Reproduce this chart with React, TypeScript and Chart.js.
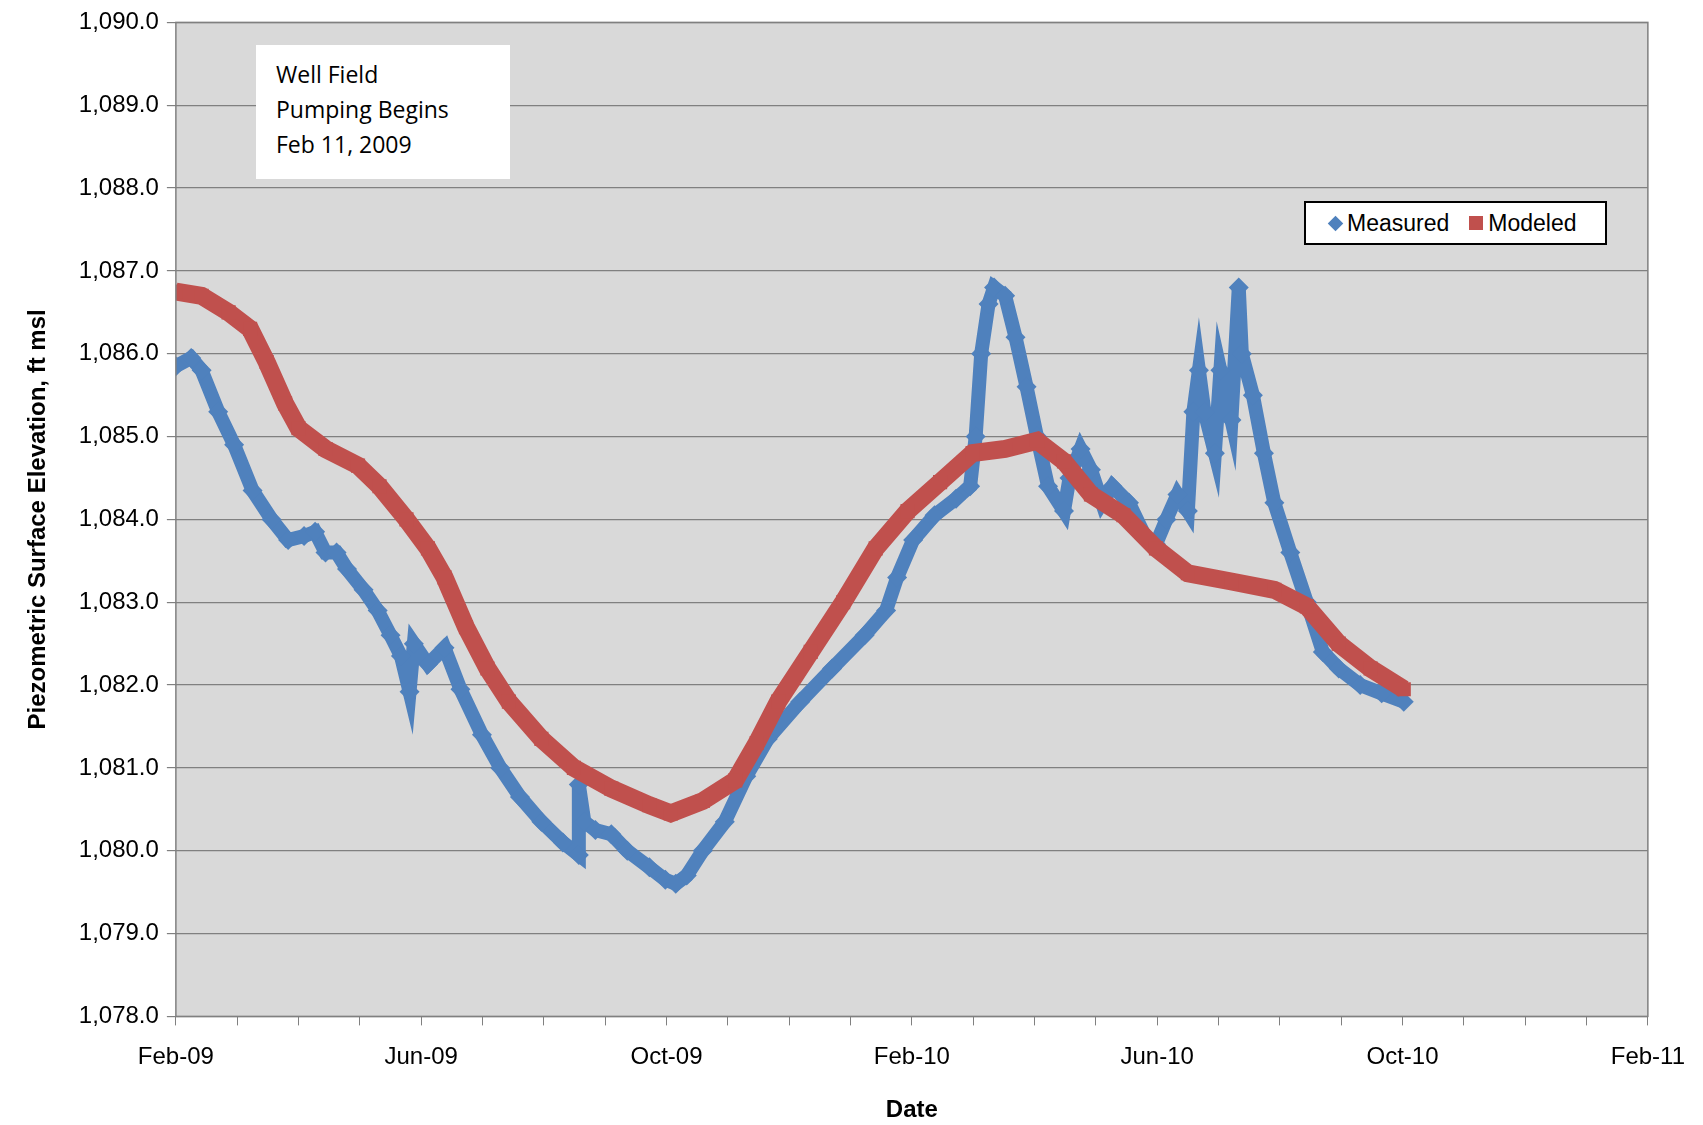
import React, { useEffect, useRef } from "react";
import { Chart, registerables } from "chart.js";
Chart.register(...registerables);

// months since Feb 1 2009
const measuredX = [0,0.25,0.42,0.69,0.95,1.25,1.56,1.83,2.09,2.27,2.44,2.62,2.79,3.06,3.29,3.5,3.67,3.81,3.88,4.11,4.38,4.64,4.99,5.29,5.61,5.96,6.31,6.57,6.57,6.66,6.84,7.1,7.36,7.72,7.98,8.15,8.33,8.59,8.95,9.3,9.65,10.18,10.7,11.23,11.58,11.76,12.02,12.37,12.72,12.95,13.04,13.13,13.25,13.34,13.52,13.69,13.87,14.04,14.22,14.48,14.57,14.75,14.92,15.1,15.27,15.54,15.8,15.98,16.15,16.33,16.5,16.59,16.68,16.77,16.94,17.03,17.21,17.33,17.38,17.56,17.74,17.91,18.17,18.44,18.7,18.96,19.31,19.66,20.02];
const measuredY = [1085.85,1085.95,1085.8,1085.3,1084.9,1084.35,1084.0,1083.75,1083.8,1083.85,1083.6,1083.6,1083.4,1083.15,1082.9,1082.6,1082.35,1081.92,1082.5,1082.25,1082.45,1081.95,1081.4,1081.0,1080.65,1080.35,1080.1,1079.95,1080.8,1080.35,1080.25,1080.2,1080.0,1079.8,1079.65,1079.6,1079.7,1080.0,1080.35,1080.9,1081.35,1081.8,1082.2,1082.6,1082.9,1083.3,1083.75,1084.05,1084.25,1084.4,1085.0,1086.0,1086.6,1086.8,1086.7,1086.2,1085.6,1085.0,1084.4,1084.1,1084.5,1084.85,1084.6,1084.2,1084.4,1084.2,1083.8,1083.7,1084.0,1084.3,1084.1,1085.3,1085.8,1085.3,1084.8,1085.8,1085.2,1086.8,1086.0,1085.5,1084.8,1084.2,1083.6,1083.0,1082.4,1082.2,1082.0,1081.9,1081.8];
const modeledX = [0,0.42,0.86,1.21,1.48,1.78,2.0,2.44,2.97,3.32,3.76,4.11,4.38,4.73,5.08,5.43,5.96,6.49,7.1,7.72,8.07,8.59,9.12,9.47,9.82,10.35,10.88,11.41,11.93,12.46,12.99,13.52,14.04,14.48,14.92,15.45,15.98,16.5,17.21,17.91,18.44,18.96,19.48,20.02];
const modeledY = [1086.75,1086.7,1086.5,1086.3,1085.9,1085.4,1085.1,1084.85,1084.65,1084.4,1084.0,1083.65,1083.3,1082.7,1082.2,1081.8,1081.35,1081.0,1080.75,1080.55,1080.45,1080.6,1080.85,1081.3,1081.8,1082.4,1083.0,1083.65,1084.1,1084.45,1084.8,1084.85,1084.95,1084.7,1084.3,1084.05,1083.65,1083.35,1083.25,1083.15,1082.95,1082.5,1082.2,1081.95];
const xTickLabels: Record<number, string> = { 0: "Feb-09", 4: "Jun-09", 8: "Oct-09", 12: "Feb-10", 16: "Jun-10", 20: "Oct-10", 24: "Feb-11" };

const BLUE = "#4F81BD";
const RED = "#C0504D";

export default function App() {
  const ref = useRef<HTMLCanvasElement>(null);
  useEffect(() => {
    const bg = {
      id: "bg",
      beforeDraw(c: any) {
        const { ctx, chartArea: a } = c;
        ctx.save();
        ctx.fillStyle = "#D9D9D9";
        ctx.fillRect(a.left, a.top, a.right - a.left, a.bottom - a.top);
        ctx.restore();
      },
      afterDraw(c: any) {
        const { ctx, chartArea: a } = c;
        ctx.save();
        ctx.strokeStyle = "#808080";
        ctx.lineWidth = 1.5;
        ctx.strokeRect(a.left, a.top, a.right - a.left, a.bottom - a.top);
        ctx.restore();
      },
    };
    const chart = new Chart(ref.current!, {
      type: "scatter",
      data: {
        datasets: [
          {
            label: "Modeled",
            data: modeledX.map((x, i) => ({ x, y: modeledY[i] })),
            showLine: true,
            borderColor: RED,
            borderWidth: 18,
            backgroundColor: RED,
            pointStyle: "rect",
            pointRadius: 10,
            pointBorderWidth: 0,
          },
          {
            label: "Measured",
            data: measuredX.map((x, i) => ({ x, y: measuredY[i] })),
            showLine: true,
            borderColor: BLUE,
            borderWidth: 14,
            backgroundColor: BLUE,
            pointStyle: "rectRot",
            pointRadius: 10,
            pointBorderWidth: 0,
          },
        ],
      },
      options: {
        animation: false,
        responsive: false,
        layout: { padding: { left: 20, right: 19, top: 21, bottom: 0 } },
        plugins: { legend: { display: false }, tooltip: { enabled: false } },
        scales: {
          x: {
            type: "linear",
            min: 0,
            max: 24,
            afterBuildTicks: (s: any) => {
              s.ticks = Array.from({ length: 25 }, (_, i) => ({ value: i }));
            },
            ticks: {
              autoSkip: false,
              maxRotation: 0,
              color: "#000",
              font: { family: "Arial, Liberation Sans", size: 24 },
              padding: 18,
              callback: (v: any) => xTickLabels[v] ?? "",
            },
            grid: { drawOnChartArea: false, drawTicks: true, tickLength: 9, color: "#808080" },
            border: { display: false },
            title: { display: true, text: "Date", color: "#000", font: { family: "Arial, Liberation Sans", size: 24, weight: "bold" }, padding: { top: 6, bottom: 0 } },
          },
          y: {
            min: 1078,
            max: 1090,
            ticks: {
              stepSize: 1,
              color: "#000",
              font: { family: "Arial, Liberation Sans", size: 24 },
              padding: 8,
              callback: (v: any) => Number(v).toLocaleString("en-US", { minimumFractionDigits: 1, maximumFractionDigits: 1 }),
            },
            grid: { color: "#808080", lineWidth: 1.2, tickLength: 9 },
            border: { display: false },
            title: { display: true, text: "Piezometric Surface Elevation, ft msl", color: "#000", font: { family: "Arial, Liberation Sans", size: 24, weight: "bold" }, padding: { bottom: 18 } },
          },
        },
      },
      plugins: [bg],
    } as any);
    return () => chart.destroy();
  }, []);

  return (
    <div style={{ position: "relative", width: 1703, height: 1125, margin: -8, background: "#fff" }}>
      <canvas ref={ref} width={1703} height={1125} style={{ display: "block" }} />
      <div style={{ position: "absolute", left: 256, top: 45, width: 254, height: 134, background: "#fff", boxSizing: "border-box", padding: "12px 0 0 20px", fontFamily: "Open Sans, Liberation Sans, sans-serif", fontSize: 23, lineHeight: "35px", color: "#000" }}>
        Well Field<br />Pumping Begins<br />Feb 11, 2009
      </div>
      <div style={{ position: "absolute", left: 1304, top: 201, width: 303, height: 44, background: "#fff", border: "2px solid #000", boxSizing: "border-box", display: "flex", alignItems: "center", fontFamily: "Arial, Liberation Sans, sans-serif", fontSize: 23, color: "#000" }}>
        <span style={{ display: "inline-block", width: 11, height: 11, background: BLUE, transform: "rotate(45deg)", marginLeft: 24, marginRight: 6 }} />Measured
        <span style={{ display: "inline-block", width: 14, height: 14, background: RED, marginLeft: 20, marginRight: 5 }} />Modeled
      </div>
    </div>
  );
}
